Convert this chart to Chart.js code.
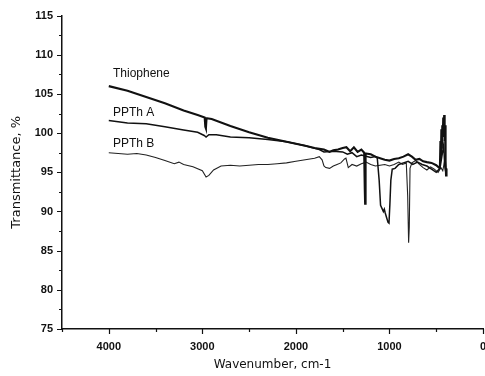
<!DOCTYPE html>
<html>
<head>
<meta charset="utf-8">
<script src="https://cdn.jsdelivr.net/npm/chart.js@4/dist/chart.umd.min.js"></script>
<style>
html,body{margin:0;padding:0;background:#fff;overflow:hidden;}
#wrap{width:486px;height:376px;position:relative;}
</style>
</head>
<body>
<div id="wrap"><canvas id="c"></canvas></div>
<script>
// ---- data ----
const seriesNames = ['Thiophene', 'PPTh A', 'PPTh B'];

const thiopheneWn = [4000,3800,3600,3400,3200,3050,2975,2968,2962,2955,2900,2700,2500,2300,2100,1900,1800,1700,1640,1600,1550,1500,1460,1420,1380,1340,1300,1270,1264,1260,1255,1200,1150,1100,1050,1000,950,900,850,800,760,720,680,640,600,550,500,470,460,455,450,445,440,435,430,425,420,415,410,405,400,395,390];
const thiopheneT  = [106.0,105.4,104.6,103.8,102.9,102.3,102.0,100.8,100.6,101.9,101.8,100.9,100.1,99.4,98.9,98.4,98.1,97.9,97.6,97.8,97.9,98.1,98.2,97.7,98.2,97.6,97.9,97.5,93.0,91.0,97.4,97.3,97.0,96.8,96.6,96.5,96.7,96.8,97.0,97.3,97.0,96.6,96.7,96.4,96.3,96.2,95.9,95.6,96.0,99.0,97.0,100.5,98.0,101.0,99.5,102.0,100.0,102.3,99.0,101.0,96.5,94.6,95.5];

const pptaWn = [4000,3800,3600,3400,3200,3050,2980,2960,2930,2850,2700,2500,2300,2100,1900,1750,1700,1600,1500,1450,1400,1350,1300,1200,1150,1130,1110,1095,1080,1065,1055,1045,1030,1015,1005,995,985,970,940,900,850,800,750,700,650,600,550,500,460,440,420,410,400,390];
const pptaT  = [101.6,101.3,101.2,100.8,100.4,100.1,99.7,99.5,99.8,99.8,99.5,99.4,99.2,98.9,98.4,97.9,97.6,97.7,97.6,97.3,97.5,97.0,97.2,96.9,97.0,96.8,94.0,90.8,90.4,90.0,90.3,89.8,89.2,88.6,88.5,91.0,94.0,95.4,95.5,96.0,96.2,96.4,96.0,96.3,96.0,95.8,95.4,95.0,95.5,97.0,98.5,96.0,95.2,95.5];

const pptbWn = [4000,3900,3800,3700,3600,3500,3400,3300,3250,3200,3100,3000,2960,2930,2880,2800,2700,2600,2500,2400,2300,2200,2100,2000,1900,1800,1750,1720,1700,1680,1640,1600,1560,1520,1480,1465,1440,1400,1350,1300,1250,1200,1150,1100,1050,1000,950,900,860,820,805,795,788,780,760,720,680,640,600,560,520,480,450,430,410,400];
const pptbT  = [97.5,97.4,97.3,97.4,97.2,96.9,96.5,96.1,96.3,96.0,95.7,95.2,94.4,94.6,95.3,95.8,95.9,95.8,95.9,96.0,96.0,96.1,96.2,96.4,96.6,96.8,97.0,96.6,95.8,95.6,95.5,95.8,96.0,96.2,96.7,96.8,95.6,96.0,95.8,96.1,96.3,96.0,95.8,95.9,96.0,95.8,96.0,96.3,96.0,96.2,92.0,86.0,88.0,95.5,96.2,96.5,96.0,95.6,95.3,95.7,95.4,95.0,95.6,95.2,96.5,95.0];

const xTickLabels = ['4000','3000','2000','1000','0'];
const yTickLabels = ['75','80','85','90','95','100','105','110','115'];

// ---- build ----
function pts(wn, t){ return wn.map((w,i)=>({x:w, y:t[i]})); }

const seriesLabelPlugin = {
  id: 'seriesLabels',
  afterDatasetsDraw(chart, args, opts){
    const {ctx, scales:{x, y}} = chart;
    ctx.save();
    ctx.fillStyle = '#111';
    ctx.font = '12px "Liberation Sans", Arial, sans-serif';
    ctx.textBaseline = 'middle';
    ctx.textAlign = 'left';
    opts.items.forEach(it => {
      ctx.fillText(it.text, x.getPixelForValue(it.x), y.getPixelForValue(it.y));
    });
    ctx.restore();
  }
};

const tickPlugin = {
  id: 'axisTicks',
  afterDraw(chart){
    const {ctx, scales:{x, y}, chartArea} = chart;
    ctx.save();
    ctx.strokeStyle = '#111';
    ctx.lineWidth = 1.2;
    ctx.beginPath();
    for (let v = 0; v <= 4500; v += 500) {
      const px = Math.round(x.getPixelForValue(v)) + 0.5;
      const len = (v % 1000 === 0) ? 5 : 3;
      ctx.moveTo(px, chartArea.bottom);
      ctx.lineTo(px, chartArea.bottom + len);
    }
    for (let v = 75; v <= 115; v += 2.5) {
      const py = Math.round(y.getPixelForValue(v)) + 0.5;
      const len = (v % 5 === 0) ? 5 : 3;
      ctx.moveTo(chartArea.left, py);
      ctx.lineTo(chartArea.left - len, py);
    }
    ctx.stroke();
    ctx.restore();
  }
};

const tickFont = {family: '"Liberation Sans", Arial, sans-serif', size: 11, weight: 'bold'};

new Chart(document.getElementById('c'), {
  type: 'line',
  data: {
    datasets: [
      {label: seriesNames[0], data: pts(thiopheneWn, thiopheneT), borderColor: '#111', borderWidth: 2.1},
      {label: seriesNames[1], data: pts(pptaWn, pptaT), borderColor: '#111', borderWidth: 1.5},
      {label: seriesNames[2], data: pts(pptbWn, pptbT), borderColor: '#222', borderWidth: 1.1}
    ]
  },
  options: {
    responsive: true,
    maintainAspectRatio: false,
    animation: false,
    layout: {padding: {top: 15, right: 0, bottom: 0, left: 0}},
    elements: {point: {radius: 0}, line: {tension: 0}},
    plugins: {
      legend: {display: false},
      tooltip: {enabled: false},
      seriesLabels: {items: [
        {text: seriesNames[0], x: 3955, y: 107.6},
        {text: seriesNames[1], x: 3955, y: 102.6},
        {text: seriesNames[2], x: 3955, y: 98.6}
      ]}
    },
    scales: {
      x: {
        type: 'linear',
        reverse: true,
        min: 0, max: 4500,
        afterFit(s){ s.height = 47; s.paddingLeft = 0; s.paddingRight = 3; },
        grid: {display: false, drawTicks: false},
        border: {display: true, color: '#111', width: 1.5},
        afterBuildTicks(s){ s.ticks = xTickLabels.map(l => ({value: Number(l)})); },
        ticks: {
          color: '#111', font: tickFont, padding: 11, maxRotation: 0, autoSkip: false,
          callback: (v) => xTickLabels.includes(String(v)) ? String(v) : ''
        },
        title: {display: true, text: 'Wavenumber, cm-1', color: '#111',
          font: {family: '"DejaVu Sans", sans-serif', size: 12}, padding: {top: 0, bottom: 4}}
      },
      y: {
        type: 'linear',
        min: 75, max: 115,
        afterFit(s){ s.width = 62; },
        grid: {display: false, drawTicks: false},
        border: {display: true, color: '#111', width: 1.5},
        afterBuildTicks(s){ s.ticks = yTickLabels.map(l => ({value: Number(l)})); },
        ticks: {color: '#111', font: tickFont, padding: 9, autoSkip: false,
          callback: (v) => String(v)},
        title: {display: true, text: 'Transmittance, %', color: '#111',
          font: {family: '"DejaVu Sans", sans-serif', size: 13}, padding: {top: 9, bottom: 0}}
      }
    }
  },
  plugins: [seriesLabelPlugin, tickPlugin]
});
</script>
</body>
</html>
